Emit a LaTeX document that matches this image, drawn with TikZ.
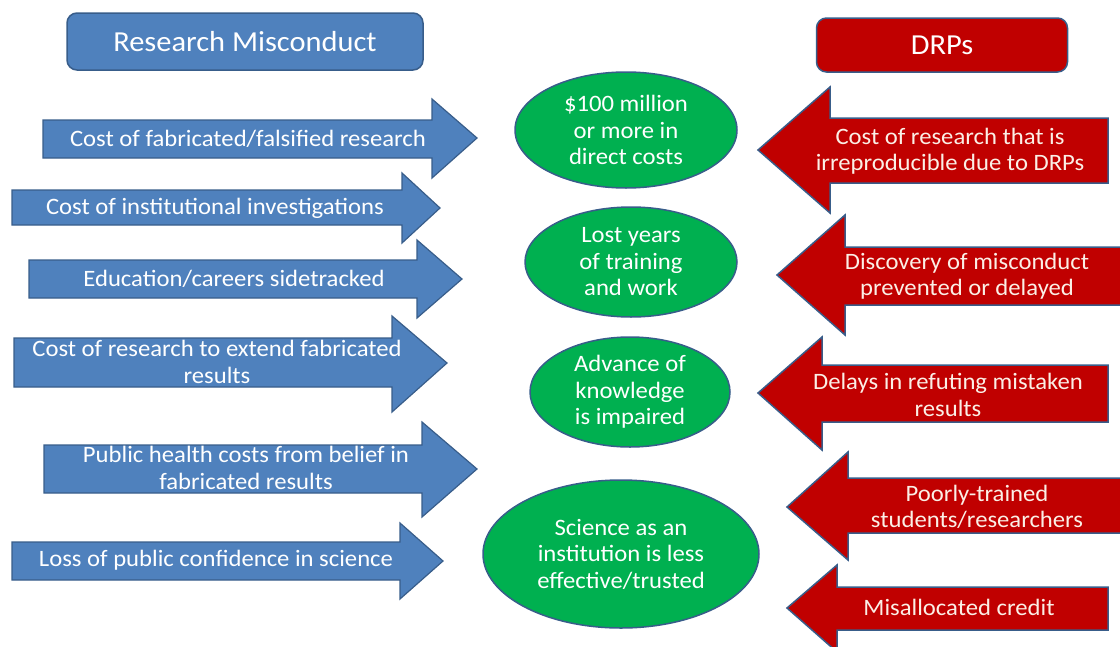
\documentclass[tikz,border=0pt]{standalone}
\usepackage{fontspec}
\setmainfont{Carlito}[FakeStretch=1.05]
\usetikzlibrary{shapes.geometric}
\definecolor{rmblue}{HTML}{4F81BD}
\definecolor{rmedge}{HTML}{385D8A}
\definecolor{drpred}{HTML}{C00000}
\definecolor{outgreen}{HTML}{00B050}
\definecolor{drptext}{HTML}{FBEFE6}

\begin{document}
\begin{tikzpicture}[x=1pt,y=-1pt,
    header/.style={rectangle,rounded corners=10pt,draw=rmedge,line width=1.5pt,text=white,font=\fontsize{29}{34}\selectfont},
    rmarrow/.style={fill=rmblue,draw=rmedge,line width=1.2pt},
    drparrow/.style={fill=drpred,draw=rmedge,line width=1.5pt},
    cardtext/.style={text=white,align=center,inner sep=0pt,font=\fontsize{23.5}{26.5}\selectfont},
    outcome/.style={ellipse,fill=outgreen,draw=rmedge,line width=1.5pt,inner sep=0pt,text=white,align=center,font=\fontsize{23.5}{26.5}\selectfont}]
    \useasboundingbox (0,0) rectangle (1120,646);

    % headers
    \node[header,fill=rmblue,minimum width=356pt,minimum height=57pt] (misconduct) at (245,41.5) {Research Misconduct};
    \node[header,fill=drpred,minimum width=251pt,minimum height=54pt] (drps) at (942,45) {DRPs};

    % research misconduct arrows
    \path[rmarrow] (43,120) -- (432,120) -- (432,99) -- (477,138) -- (432,178) -- (432,158) -- (43,158) -- cycle;
    \node[cardtext] (fabcost) at (248,139) {Cost of fabricated/falsified research};
    \path[rmarrow] (12,190) -- (402,190) -- (402,173) -- (440,208) -- (402,243) -- (402,225) -- (12,225) -- cycle;
    \node[cardtext] (invcost) at (215,208) {Cost of institutional investigations};
    \path[rmarrow] (29,260) -- (417,260) -- (417,240) -- (462,279) -- (417,318) -- (417,298) -- (29,298) -- cycle;
    \node[cardtext] (careers) at (234,279) {Education/careers sidetracked};
    \path[rmarrow] (14,338) -- (392,338) -- (392,316) -- (447,363) -- (392,412) -- (392,387) -- (14,387) -- cycle;
    \node[cardtext] (extend) at (217,362) {Cost of research to extend fabricated\\results};
    \path[rmarrow] (44,445) -- (422,445) -- (422,422) -- (477,469) -- (422,517) -- (422,493) -- (44,493) -- cycle;
    \node[cardtext] (health) at (246,468) {Public health costs from belief in\\fabricated results};
    \path[rmarrow] (12,542) -- (400,542) -- (400,523) -- (443,561) -- (400,599) -- (400,580) -- (12,580) -- cycle;
    \node[cardtext] (confidence) at (216,560) {Loss of public confidence in science};

    % outcomes
    \node[outcome,minimum width=222pt,minimum height=116pt] (direct) at (626,130) {\$100 million\\or more in\\direct costs};
    \node[outcome,minimum width=212pt,minimum height=110pt] (years) at (631,262) {Lost years\\of training\\and work};
    \node[outcome,minimum width=200pt,minimum height=110pt] (knowledge) at (630,392) {Advance of\\knowledge\\is impaired};
    \node[outcome,minimum width=276pt,minimum height=148pt] (science) at (621,554) {Science as an\\institution is less\\effective/trusted};

    % DRP arrows
    \path[drparrow] (1108,118) -- (830,118) -- (830,87) -- (758,150) -- (830,213) -- (830,183) -- (1108,183) -- cycle;
    \node[cardtext,text=drptext] (irrepro) at (950,151) {Cost of research that is\\irreproducible due to DRPs};
    \path[drparrow] (1125,247) -- (845,247) -- (845,215) -- (777,275) -- (845,335) -- (845,305) -- (1125,305) -- cycle;
    \node[cardtext,text=drptext] (discovery) at (967,276) {Discovery of misconduct\\prevented or delayed};
    \path[drparrow] (1108,365) -- (822,365) -- (822,337) -- (758,393) -- (822,450) -- (822,422) -- (1108,422) -- cycle;
    \node[cardtext,text=drptext] (refuting) at (948,395) {Delays in refuting mistaken\\results};
    \path[drparrow] (1125,478) -- (848,478) -- (848,452) -- (787,507) -- (848,560) -- (848,533) -- (1125,533) -- cycle;
    \node[cardtext,text=drptext] (training) at (977,507) {Poorly-trained\\students/researchers};
    \path[drparrow] (1108,587) -- (837,587) -- (837,565) -- (787,608) -- (837,652) -- (837,630) -- (1108,630) -- cycle;
    \node[cardtext,text=drptext] (credit) at (959,607) {Misallocated credit};
\end{tikzpicture}
\end{document}
